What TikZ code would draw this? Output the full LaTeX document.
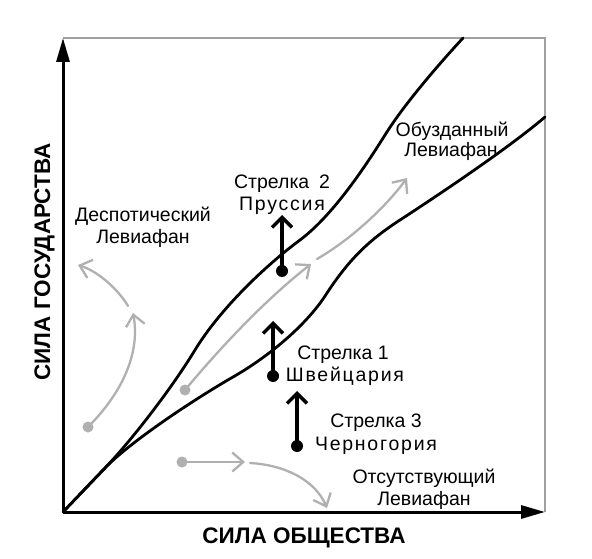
\documentclass[tikz,border=0pt]{standalone}
\usepackage{fontspec}
\setmainfont{Liberation Sans}
\newfontfamily\spacedfont[LetterSpace=9]{Liberation Sans}
\usetikzlibrary{arrows.meta}
\definecolor{lightgr}{HTML}{B0B0B0}
\definecolor{framegr}{HTML}{A0A0A0}
\begin{document}
\begin{tikzpicture}[x=1pt,y=-1pt,
  lbl/.style={font=\fontsize{19.5}{22}\selectfont, inner sep=0pt, anchor=base},
  slbl/.style={font=\fontsize{19.5}{22}\selectfont\spacedfont, inner sep=0pt, anchor=base},
  axlbl/.style={font=\fontsize{22.5}{25}\selectfont\bfseries, inner sep=0pt, anchor=base},
  axis/.style={line width=3pt, -{Triangle[length=24pt,width=13pt]}},
  curve/.style={line width=2.8pt, line cap=round, line join=round},
  bdot/.style={circle, fill=black, minimum size=12pt, inner sep=0pt},
  gdot/.style={circle, fill=lightgr, minimum size=11pt, inner sep=0pt},
  barrow/.style={line width=4pt, -{Straight Barb[length=10pt,width=20pt,line width=3.5pt]}},
  garrow/.style={lightgr, line width=2.3pt, line cap=round, -{Straight Barb[length=11pt,width=19pt]}}]
\useasboundingbox (0,0) rectangle (592,559);
% frame and axes
\coordinate (O) at (63,512);
\coordinate (Ytop) at (63,38);
\coordinate (Xend) at (545,512);
\coordinate (TR) at (545,38);
\draw[framegr, line width=1.3pt] (Ytop) -- (TR) -- (Xend);
\draw[axis] (O) -- (Ytop);
\draw[axis] (O) -- (Xend);
% corridor curves
\coordinate (C0) at (105,468);
\coordinate (U1) at (195,350);
\coordinate (U2) at (300,240);
\coordinate (U3) at (385,135);
\coordinate (U4) at (463,38);
\draw[curve] (O) -- (C0) .. controls (130,442) and (170,391) .. (U1)
  .. controls (220,309) and (265,266) .. (U2)
  .. controls (330,217.5) and (360,175) .. (U3)
  .. controls (405,103) and (440,63) .. (U4);
\coordinate (L1) at (233,377);
\coordinate (L2) at (327,293);
\coordinate (L3) at (400,220);
\coordinate (L4) at (545,117);
\draw[curve] (O) -- (C0) .. controls (130,442) and (193,400) .. (L1)
  .. controls (268,357) and (307,325) .. (L2)
  .. controls (350,258) and (370,239.5) .. (L3)
  .. controls (440,194) and (510,147) .. (L4);
% gray arrows
\node[gdot] (ga) at (185,390) {};
\coordinate (ga1) at (311,264);
\coordinate (ga2) at (317,259);
\coordinate (ga3) at (407,178);
\draw[garrow] (ga.center) .. controls (220,348) and (265,300) .. (ga1);
\draw[garrow] (ga2) .. controls (350,240) and (385,208) .. (ga3);
\node[gdot] (gb) at (88,427) {};
\coordinate (gb1) at (133,313);
\coordinate (gb2) at (128,306);
\coordinate (gb3) at (78,265);
\draw[garrow] (gb.center) .. controls (125,390) and (140,350) .. (gb1);
\draw[garrow] (gb2) .. controls (120,292) and (100,272) .. (gb3);
\node[gdot] (gc) at (182,462) {};
\coordinate (gc1) at (245,462);
\coordinate (gc2) at (250,463);
\coordinate (gc3) at (327,508);
\draw[garrow] (gc.center) -- (gc1);
\draw[garrow] (gc2) .. controls (285,465) and (315,480) .. (gc3);
% black arrows
\node[bdot] (s2) at (282,271) {};
\coordinate (s2tip) at (282,215);
\draw[barrow] (s2.center) -- (s2tip);
\node[bdot] (s1) at (273,376) {};
\coordinate (s1tip) at (273,321);
\draw[barrow] (s1.center) -- (s1tip);
\node[bdot] (s3) at (297,446) {};
\coordinate (s3tip) at (297,391);
\draw[barrow] (s3.center) -- (s3tip);
% labels
\node[lbl] (d1) at (143,222) {Деспотический};
\node[lbl] (d2) at (143,243) {Левиафан};
\node[lbl] (o1) at (452,137) {Обузданный};
\node[lbl] (o2) at (451,157) {Левиафан};
\node[lbl] (a2a) at (282,189) {Стрелка\hspace{0.5em}2};
\node[slbl] (a2b) at (282,211) {Пруссия};
\node[lbl] (a1a) at (343,359) {Стрелка 1};
\node[slbl] (a1b) at (345,381) {Швейцария};
\node[lbl] (a3a) at (376,427) {Стрелка 3};
\node[slbl] (a3b) at (376,450) {Черногория};
\node[lbl] (n1) at (424,483) {Отсутствующий};
\node[lbl] (n2) at (424,505) {Левиафан};
\node[axlbl] (xl) at (304,543) {СИЛА ОБЩЕСТВА};
\node[axlbl, rotate=90] (yl) at (50,262) {СИЛА ГОСУДАРСТВА};
\end{tikzpicture}
\end{document}
